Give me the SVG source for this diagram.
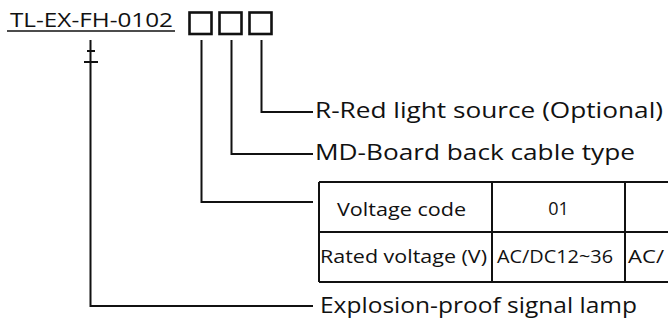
<svg xmlns="http://www.w3.org/2000/svg" width="668" height="320" viewBox="0 0 668 320">
<style>
text{font-family:"Open Sans","Noto Sans","Liberation Sans",sans-serif;fill:#111;}
.lbl{font-size:21px;}
.tb{font-size:18px;}
.ttl{font-size:20px;}
.conn{fill:none;stroke:#111;stroke-width:2;}
.box{fill:#fff;stroke:#111;stroke-width:2.6;}
.grid{fill:none;stroke:#111;stroke-width:2;}
</style>
<rect width="668" height="320" fill="#fff"/>
<g id="title">
<text class="ttl" x="10" y="27" textLength="163" lengthAdjust="spacingAndGlyphs">TL-EX-FH-0102</text>
<line x1="7" y1="31" x2="175" y2="31" stroke="#111" stroke-width="1.6"/>
</g>
<g id="box1"><rect class="box" x="189.5" y="12.5" width="22" height="21.5"/></g>
<g id="box2"><rect class="box" x="219.5" y="12.5" width="22" height="21.5"/></g>
<g id="box3"><rect class="box" x="249.5" y="12.5" width="22" height="21.5"/></g>
<g id="connectors">
<path class="conn" d="M90.5 40 V306 H313"/>
<path class="conn" d="M87 51 H95 M84 62 H98"/>
<path class="conn" d="M201.5 40 V202 H313"/>
<path class="conn" d="M231.5 40 V154 H313"/>
<path class="conn" d="M261.5 40 V112 H313"/>
</g>
<g id="label-r">
<text class="lbl" x="315" y="118" textLength="348" lengthAdjust="spacingAndGlyphs">R-Red light source (Optional)</text>
</g>
<g id="label-md">
<text class="lbl" x="315" y="160" textLength="320" lengthAdjust="spacingAndGlyphs">MD-Board back cable type</text>
</g>
<g id="label-lamp">
<text class="lbl" x="320" y="313" textLength="317" lengthAdjust="spacingAndGlyphs">Explosion-proof signal lamp</text>
</g>
<g id="voltage-table">
<path class="grid" d="M319 182 H668 M319 232 H668 M319 282 H668 M319 182 V282 M492 182 V282 M625 182 V282"/>
<text class="tb" x="337" y="216" textLength="129" lengthAdjust="spacingAndGlyphs">Voltage code</text>
<text class="tb" x="558.5" y="215" text-anchor="middle">01</text>
<text class="tb" x="320" y="263" textLength="167" lengthAdjust="spacingAndGlyphs">Rated voltage (V)</text>
<text class="tb" x="497" y="263" textLength="116" lengthAdjust="spacingAndGlyphs">AC/DC12~36</text>
<text class="tb" x="628" y="263" textLength="36" lengthAdjust="spacingAndGlyphs">AC/</text>
</g>
</svg>
